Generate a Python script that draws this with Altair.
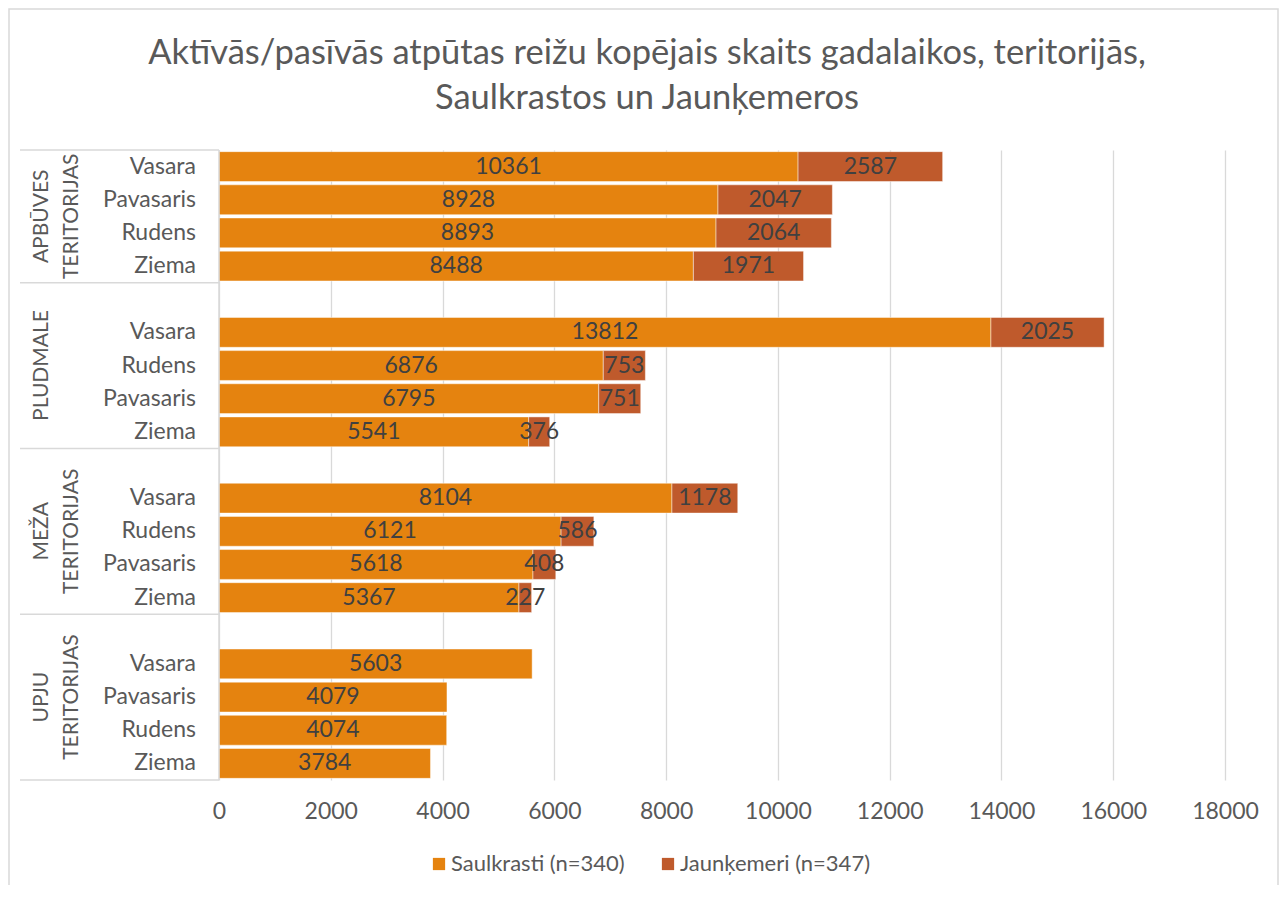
import altair as alt
import pandas as pd

TITLE_LINES = [
    "Aktīvās/pasīvās atpūtas reižu kopējais skaits gadalaikos, teritorijās,",
    "Saulkrastos un Jaunķemeros",
]
GROUPS = ["APBŪVES\nTERITORIJAS", "PLUDMALE", "MEŽA\nTERITORIJAS", "UPJU\nTERITORIJAS"]
SEASONS = [
    ["Vasara", "Pavasaris", "Rudens", "Ziema"],
    ["Vasara", "Rudens", "Pavasaris", "Ziema"],
    ["Vasara", "Rudens", "Pavasaris", "Ziema"],
    ["Vasara", "Pavasaris", "Rudens", "Ziema"],
]
SAULKRASTI = [
    [10361, 8928, 8893, 8488],
    [13812, 6876, 6795, 5541],
    [8104, 6121, 5618, 5367],
    [5603, 4079, 4074, 3784],
]
JAUNKEMERI = [
    [2587, 2047, 2064, 1971],
    [2025, 753, 751, 376],
    [1178, 586, 408, 227],
    [None, None, None, None],
]
SERIES = ["Saulkrasti (n=340)", "Jaunķemeri (n=347)"]
COLORS = ["#E5830F", "#BF5A2C"]
X_TICKS = [0, 2000, 4000, 6000, 8000, 10000, 12000, 14000, 16000, 18000]

FONT = "Lato"
GREY = "#595959"
FS = 23
W, H = 1006, 630

# ---- build tables from the lists ----
bars, seasons_rows, groups_rows, seps = [], [], [], [0]
row = 0
for g, gname in enumerate(GROUPS):
    start = row
    if g > 0:
        row += 1  # blank category between groups
    for i, s in enumerate(SEASONS[g]):
        seasons_rows.append({"row": row, "season": s})
        for k, vals in enumerate([SAULKRASTI, JAUNKEMERI]):
            v = vals[g][i]
            if v is not None:
                bars.append({"row": row, "series": SERIES[k], "order": k, "value": v})
        row += 1
    groups_rows.append({"label": gname, "center": (start + row) / 2})
    seps.append(row)
NROWS = row

df_bars = pd.DataFrame(bars)
df_seasons = pd.DataFrame(seasons_rows)
df_groups = pd.DataFrame(groups_rows)
df_seps = pd.DataFrame({"y": seps})

xscale = alt.Scale(domain=[0, 18000], nice=False, zero=True)
yscale = alt.Scale(domain=[0, NROWS], reverse=True, nice=False, zero=False)

xaxis = alt.Axis(
    values=X_TICKS, title=None, domain=False, ticks=False, tickSize=0,
    labelPadding=20, labelFontSize=FS, labelColor=GREY, labelFont=FONT,
    labelFlush=False, labelOverlap=False,
    grid=True, gridColor="#D9D9D9", gridWidth=1.3, format="d",
)

base = (
    alt.Chart(df_bars)
    .transform_stack(stack="value", groupby=["row"],
                     sort=[alt.SortField(field="order", order="ascending")],
                     as_=["x0", "x1"])
    .transform_calculate(y0="datum.row + 0.05", y1="datum.row + 0.95",
                         yc="datum.row + 0.5", mid="(datum.x0 + datum.x1) / 2")
)

bar_layer = base.mark_rect(stroke="white", strokeWidth=1, strokeOpacity=0.45).encode(
    x=alt.X("x0:Q", scale=xscale, axis=xaxis),
    x2="x1:Q",
    y=alt.Y("y0:Q", scale=yscale, axis=None),
    y2="y1:Q",
    color=alt.Color(
        "series:N",
        scale=alt.Scale(domain=SERIES, range=COLORS),
        legend=alt.Legend(
            orient="none", legendX=209, legendY=703, direction="horizontal",
            title=None, symbolType="square", symbolSize=150, symbolStrokeWidth=0,
            labelFontSize=22, labelColor=GREY, labelFont=FONT, labelOffset=1,
            labelLimit=400, columnPadding=32, padding=0,
        ),
    ),
)

value_labels = base.mark_text(
    font=FONT, fontSize=FS, color="#404040", baseline="middle", align="center"
).encode(
    x=alt.X("mid:Q", scale=xscale),
    y=alt.Y("yc:Q", scale=yscale),
    text=alt.Text("value:Q", format="d"),
)

season_labels = (
    alt.Chart(df_seasons)
    .transform_calculate(yc="datum.row + 0.5")
    .mark_text(font=FONT, fontSize=FS, color=GREY, align="right", baseline="middle")
    .encode(x=alt.value(-23), y=alt.Y("yc:Q", scale=yscale), text="season:N")
)

group_labels = (
    alt.Chart(df_groups)
    .mark_text(font=FONT, fontSize=21, color=GREY, align="center", baseline="bottom",
               angle=270, lineBreak="\n", lineHeight=30)
    .encode(x=alt.value(-167), y=alt.Y("center:Q", scale=yscale), text="label:N")
)

separators = (
    alt.Chart(df_seps)
    .mark_rule(color="#D9D9D9", strokeWidth=1.5)
    .encode(x=alt.value(-199), x2=alt.value(0), y=alt.Y("y:Q", scale=yscale))
)

axis_line = (
    alt.Chart(pd.DataFrame({"a": [0]}))
    .mark_rule(color="#D9D9D9", strokeWidth=1.5)
    .encode(x=alt.value(0), y=alt.value(0), y2=alt.value(H))
)

border = (
    alt.Chart(pd.DataFrame({"a": [0]}))
    .mark_rect(fill="transparent", stroke="#D9D9D9", strokeWidth=1.5)
    .encode(x=alt.value(-210), x2=alt.value(1059), y=alt.value(-141), y2=alt.value(H + 200))
)

title = (
    alt.Chart(pd.DataFrame({"a": [0]}))
    .mark_text(text=TITLE_LINES, font=FONT, fontSize=34.5, color=GREY, align="center",
               baseline="alphabetic", lineHeight=45)
    .encode(x=alt.value(428), y=alt.value(-86))
)

chart = (
    alt.layer(border, bar_layer, value_labels, season_labels, group_labels,
              separators, axis_line, title)
    .properties(
        width=W, height=H,
        autosize=alt.AutoSizeParams(type="none"),
        padding={"left": 211, "top": 142, "right": 54, "bottom": 105},
    )
    .configure(font=FONT)
    .configure_view(stroke=None)
)

chart.save("out.html", embed_options={"renderer": "svg", "actions": False})
